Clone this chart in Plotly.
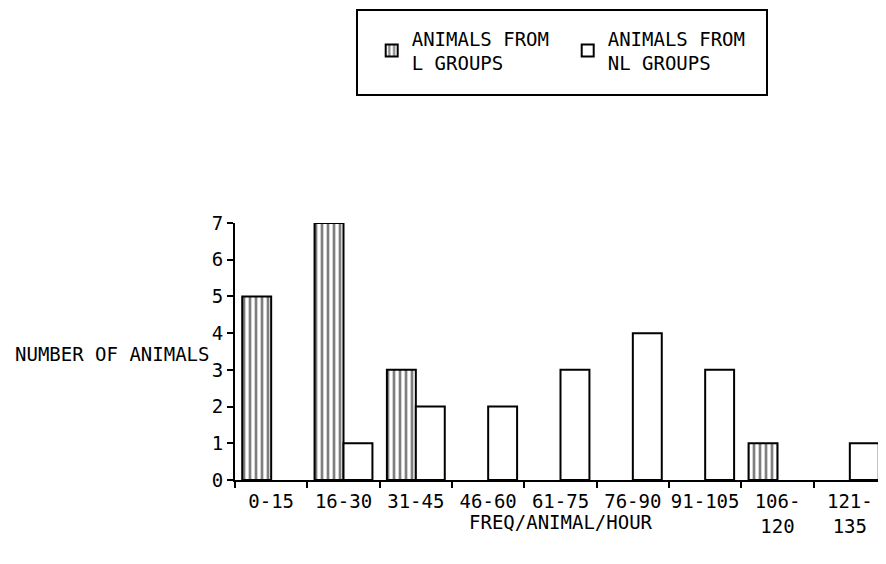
import plotly.graph_objects as go

categories = ["0-15", "16-30", "31-45", "46-60", "61-75", "76-90", "91-105", "106-<br>120", "121-<br>135"]
l_groups = [5, 7, 3, 0, 0, 0, 0, 1, 0]
nl_groups = [0, 1, 2, 2, 3, 4, 3, 0, 1]
y_ticks = [0, 1, 2, 3, 4, 5, 6, 7]

FONT = "DejaVu Sans Mono"
FS = 19

def hide_zero(vals):
    return [v if v else None for v in vals]

fig = go.Figure()
fig.add_trace(go.Bar(
    x=categories, y=hide_zero(l_groups), name="ANIMALS FROM<br>L GROUPS",
    marker=dict(color="white", line=dict(color="black", width=2),
                pattern=dict(shape="|", fgcolor="black", bgcolor="white", size=6, solidity=0.45)),
))
fig.add_trace(go.Bar(
    x=categories, y=hide_zero(nl_groups), name="ANIMALS FROM<br>NL GROUPS",
    marker=dict(color="white", line=dict(color="black", width=2)),
))

# plot area: 651 x 257 px
fig.update_layout(
    width=886, height=564,
    margin=dict(l=227, r=8, t=215, b=92, autoexpand=False),
    paper_bgcolor="white", plot_bgcolor="white",
    barmode="group", bargap=0.2, bargroupgap=0,
    font=dict(family=FONT, size=FS, color="black"),
    showlegend=True,
    legend=dict(orientation="h", xref="container", yref="container", x=0.4105, y=0.98,
                xanchor="left", yanchor="top", bgcolor="rgba(0,0,0,0)",
                entrywidth=151, entrywidthmode="pixels",
                font=dict(family=FONT, size=FS), traceorder="normal"),
    xaxis=dict(type="category", tickson="boundaries", ticks="outside", ticklen=6,
               tickwidth=2, tickcolor="black", showline=True, linecolor="black", linewidth=2,
               showgrid=False, tickangle=0, automargin=False, ticklabelstandoff=3,
               tickfont=dict(family=FONT, size=FS)),
    yaxis=dict(range=[0, 7], tickvals=y_ticks, ticks="outside", ticklen=6, tickwidth=2,
               tickcolor="black", showline=True, linecolor="black", linewidth=2,
               showgrid=False, zeroline=False, automargin=False,
               tickfont=dict(family=FONT, size=FS)),
)

fig.add_shape(type="rect", xref="paper", yref="paper", x0=(349-227)/651, x1=(759-227)/651,
              y0=(472-87)/257, y1=(472-2)/257, line=dict(color="black", width=2))
fig.add_annotation(text="NUMBER OF ANIMALS", xref="paper", yref="y", x=(203-227)/651, y=3.43,
                   xanchor="right", yanchor="middle", showarrow=False,
                   font=dict(family=FONT, size=FS))
fig.add_annotation(text="FREQ/ANIMAL/HOUR", xref="paper", yref="paper", x=0.5, y=(472-514)/257,
                   xanchor="center", yanchor="middle", showarrow=False,
                   font=dict(family=FONT, size=FS))

fig.write_html("out.html")
